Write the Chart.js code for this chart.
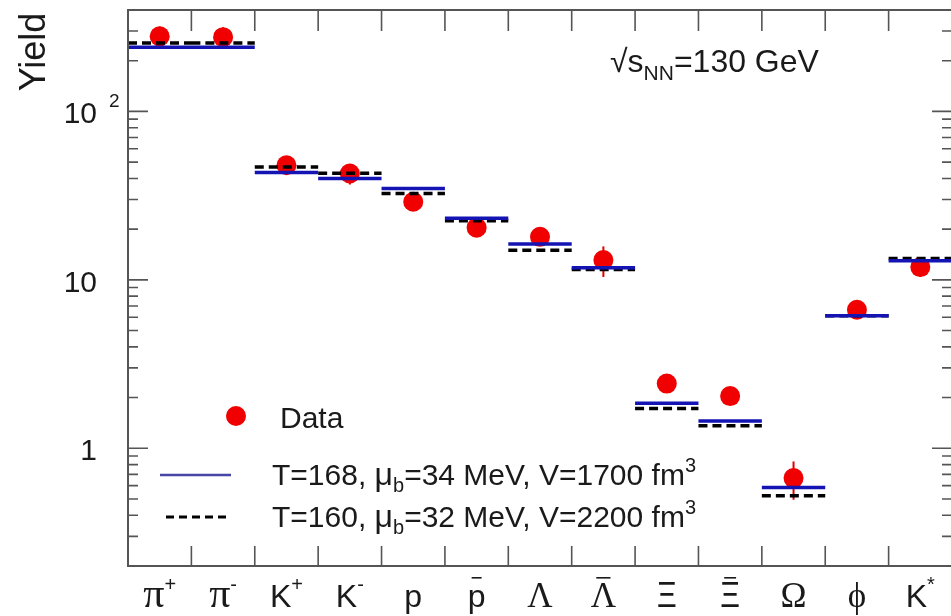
<!DOCTYPE html>
<html>
<head>
<meta charset="utf-8">
<script src="https://cdn.jsdelivr.net/npm/chart.js@4.4.1/dist/chart.umd.min.js"></script>
<style>
  html, body { margin: 0; padding: 0; background: #fff; overflow: hidden; }
  #wrap { width: 962px; height: 616px; }
</style>
</head>
<body>
<div id="wrap"><canvas id="yieldChart" width="962" height="616"></canvas></div>
<script>
// particle species along the x axis
const categories = ["π+", "π-", "K+", "K-", "p", "p̄", "Λ", "Λ̄", "Ξ", "Ξ̄", "Ω", "ϕ", "K*"];
// how each name is typeset: base symbol, superscript, antiparticle bar
const catBase = ["π", "π", "K", "K", "p", "p", "Λ", "Λ", "\u039E", "\u039E", "Ω", "ϕ", "K"];
const catSup = ["+", "-", "+", "-", "", "", "", "", "", "", "", "", "*"];
const catBar = [false, false, false, false, false, true, false, true, false, true, false, false, false];

// measured yields with errors
const dataYield = [279, 276, 47.9, 42.8, 29.1, 20.4, 18.0, 13.1, 2.42, 2.04, 0.665, 6.64, 11.9];
const dataErr = [40, 40, 3, 6, 2, 1.5, 1.5, 2.7, 0.2, 0.2, 0.17, 0.5, 1.5];

// thermal model results
const fitT168 = [240, 240, 43.4, 40.0, 34.9, 23.2, 16.3, 11.8, 1.85, 1.45, 0.585, 6.12, 13.0];
const fitT160 = [255, 255, 46.8, 43.0, 32.6, 22.4, 15.0, 11.5, 1.72, 1.36, 0.522, 6.12, 13.4];

// y axis range and labelled decades
const yMin = 0.2;
const yMax = 400;
const yTicks = [1, 10, 100];
const yTickText = ["1", "10", "10"];
const yTickExp = ["", "", "2"];

const SANS = "'Liberation Sans', Arial, sans-serif";
const SERIF = "'Liberation Serif', 'DejaVu Serif', serif";
const INK = "#1a1a1a";
const AXIS = "#555";

// one flat segment per species, broken with a null point
const toSegments = vals => {
    const pts = [];
    vals.forEach((v, i) => {
        pts.push({x: i, y: v}, {x: i + 1, y: v}, {x: i + 1, y: null});
    });
    return pts;
};

// writes a run of text pieces one after another, returns the end x
const drawRuns = (ctx, x, y, runs) => {
    for (let r of runs) {
        ctx.font = r.font;
        ctx.fillText(r.t, x, y + (r.dy || 0));
        x += ctx.measureText(r.t).width;
    }
    return x;
};

// font for a species symbol
const symbolFont = b => {
    if (b === "π") return "42px " + SERIF;
    if (b === "\u039E") return "34px 'Noto Sans', 'DejaVu Sans', sans-serif";
    if (/[^A-Za-z]/.test(b)) return "35px " + SERIF;
    return "32px " + SANS;
};

const errorBars = {
    id: "errorBars",
    beforeDatasetsDraw(chart) {
        const {ctx, scales: {x, y}} = chart;
        ctx.save();
        ctx.strokeStyle = "#e00000";
        ctx.lineWidth = 2;
        dataYield.forEach((v, i) => {
            const px = x.getPixelForValue(i + 0.5);
            ctx.beginPath();
            ctx.moveTo(px, y.getPixelForValue(v + dataErr[i]));
            ctx.lineTo(px, y.getPixelForValue(Math.max(v - dataErr[i], yMin)));
            ctx.stroke();
        });
        ctx.restore();
    }
};

const frame = {
    id: "frame",
    afterDraw(chart) {
        const {ctx, chartArea: a, scales: {x, y}} = chart;
        ctx.save();

        // box
        ctx.strokeStyle = AXIS;
        ctx.lineWidth = 2;
        ctx.strokeRect(a.left, a.top, a.right - a.left, a.bottom - a.top);

        // log ticks on both sides
        ctx.lineWidth = 1.6;
        for (let d of [0.1, 1, 10, 100]) {
            for (let k = 1; k <= 9; k++) {
                const v = k * d;
                if (v < yMin || v > yMax) continue;
                const py = y.getPixelForValue(v);
                const len = k === 1 ? 20 : 10;
                ctx.beginPath();
                ctx.moveTo(a.left, py);
                ctx.lineTo(a.left + len, py);
                ctx.moveTo(a.right, py);
                ctx.lineTo(a.right - len, py);
                ctx.stroke();
            }
        }

        // species boundaries on top and bottom
        for (let i = 1; i < categories.length; i++) {
            const px = x.getPixelForValue(i);
            ctx.beginPath();
            ctx.moveTo(px, a.top);
            ctx.lineTo(px, a.top + 21);
            ctx.moveTo(px, a.bottom);
            ctx.lineTo(px, a.bottom - 20);
            ctx.stroke();
        }

        ctx.fillStyle = INK;

        // y tick labels
        ctx.textAlign = "right";
        ctx.textBaseline = "alphabetic";
        yTicks.forEach((v, i) => {
            const py = y.getPixelForValue(v);
            ctx.font = "30px " + SANS;
            ctx.fillText(yTickText[i], 97, py + 12);
            if (yTickExp[i]) {
                ctx.textAlign = "left";
                ctx.font = "19px " + SANS;
                ctx.fillText(yTickExp[i], 109, py - 4);
                ctx.textAlign = "right";
            }
        });

        // axis title
        ctx.save();
        ctx.translate(45, 52);
        ctx.rotate(-Math.PI / 2);
        ctx.textAlign = "center";
        ctx.font = "36px " + SANS;
        ctx.fillText("Yield", 0, 0);
        ctx.restore();

        // species names
        ctx.textAlign = "left";
        catBase.forEach((b, i) => {
            const cx = x.getPixelForValue(i + 0.5);
            const baseFont = symbolFont(b);
            const supFont = "20px " + SANS;
            ctx.font = baseFont;
            const wb = ctx.measureText(b).width;
            ctx.font = supFont;
            const ws = catSup[i] ? ctx.measureText(catSup[i]).width : 0;
            const x0 = cx - (wb + ws) / 2;
            drawRuns(ctx, x0, 607, [
                {t: b, font: baseFont},
                {t: catSup[i], font: supFont, dy: -16}
            ]);
            if (catBar[i]) {
                ctx.fillRect(x0 + wb * 0.22, 577, wb * 0.56, 1.6);
            }
        });

        // energy label
        drawRuns(ctx, 610, 72, [
            {t: "√s", font: "32px " + SANS},
            {t: "NN", font: "21px " + SANS, dy: 8},
            {t: "=130 GeV", font: "32px " + SANS}
        ]);

        // legend
        ctx.fillStyle = "#f00000";
        ctx.beginPath();
        ctx.arc(236, 416, 10, 0, Math.PI * 2);
        ctx.fill();

        ctx.strokeStyle = "#4646a6";
        ctx.lineWidth = 2.5;
        ctx.beginPath();
        ctx.moveTo(160, 475);
        ctx.lineTo(231, 475);
        ctx.stroke();

        ctx.strokeStyle = "#000";
        ctx.lineWidth = 3;
        ctx.setLineDash([8, 5]);
        ctx.beginPath();
        ctx.moveTo(166, 517);
        ctx.lineTo(231, 517);
        ctx.stroke();
        ctx.setLineDash([]);

        ctx.fillStyle = INK;
        const big = "30px " + SANS;
        const small = "20px " + SANS;
        const mu = "32px " + SANS;
        drawRuns(ctx, 280, 428, [{t: "Data", font: big}]);
        drawRuns(ctx, 272, 485, [
            {t: "T=168, ", font: big},
            {t: "μ", font: mu},
            {t: "b", font: small, dy: 7},
            {t: "=34 MeV, V=1700 fm", font: big},
            {t: "3", font: small, dy: -13}
        ]);
        drawRuns(ctx, 272, 527, [
            {t: "T=160, ", font: big},
            {t: "μ", font: mu},
            {t: "b", font: small, dy: 7},
            {t: "=32 MeV, V=2200 fm", font: big},
            {t: "3", font: small, dy: -13}
        ]);

        ctx.restore();
    }
};

new Chart(document.querySelector("#yieldChart"), {
    type: "line",
    data: {
        datasets: [
            {
                label: "T=168, μb=34 MeV, V=1700 fm3",
                data: toSegments(fitT168),
                borderColor: "#1414b4",
                borderWidth: 3.5,
                pointRadius: 0,
                spanGaps: false,
                order: 0
            },
            {
                label: "T=160, μb=32 MeV, V=2200 fm3",
                data: toSegments(fitT160),
                borderColor: "#000",
                borderWidth: 3.5,
                borderDash: [9, 5],
                pointRadius: 0,
                spanGaps: false,
                order: 1
            },
            {
                label: "Data",
                data: dataYield.map((v, i) => ({x: i + 0.5, y: v})),
                showLine: false,
                pointRadius: 10,
                pointBackgroundColor: "#f00000",
                pointBorderWidth: 0,
                order: 2
            }
        ]
    },
    options: {
        responsive: false,
        animation: false,
        events: [],
        layout: {padding: {top: 8, right: 2, left: 0, bottom: 0}},
        plugins: {legend: {display: false}, tooltip: {enabled: false}},
        scales: {
            x: {
                type: "linear",
                min: 0,
                max: categories.length,
                ticks: {display: false},
                grid: {display: false},
                border: {display: false},
                afterFit: s => { s.height = 50; }
            },
            y: {
                type: "logarithmic",
                min: yMin,
                max: yMax,
                ticks: {display: false},
                grid: {display: false},
                border: {display: false},
                afterFit: s => { s.width = 128; }
            }
        }
    },
    plugins: [errorBars, frame]
});
</script>
</body>
</html>
